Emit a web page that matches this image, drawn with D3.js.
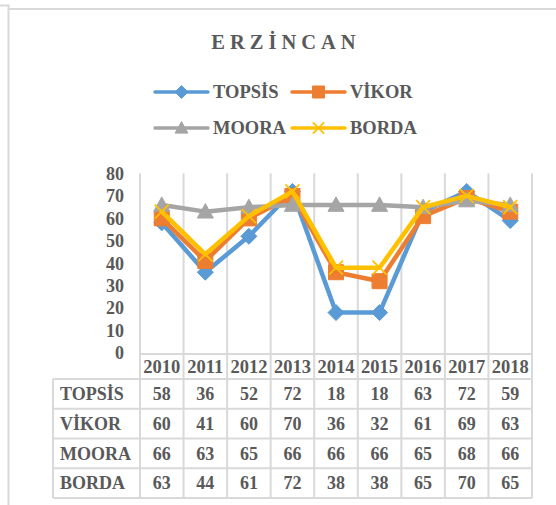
<!DOCTYPE html>
<html>
<head>
<meta charset="utf-8">
<script src="https://cdn.jsdelivr.net/npm/d3@7"></script>
<style>
  body { margin: 0; background: #fff; }
  text { font-family: "Liberation Serif", "Times New Roman", serif; font-weight: bold; fill: #595959; }
</style>
</head>
<body>
<svg id="chart"></svg>
<script>
// ---------------- data ----------------
const years = ['2010', '2011', '2012', '2013', '2014', '2015', '2016', '2017', '2018'];
const seriesNames = ['TOPSİS', 'VİKOR', 'MOORA', 'BORDA'];
const topsis = [58, 36, 52, 72, 18, 18, 63, 72, 59];
const vikor  = [60, 41, 60, 70, 36, 32, 61, 69, 63];
const moora  = [66, 63, 65, 66, 66, 66, 65, 68, 66];
const borda  = [63, 44, 61, 72, 38, 38, 65, 70, 65];
const yTicks = [0, 10, 20, 30, 40, 50, 60, 70, 80];

const width = 556;
const height = 505;
const gridColor = '#d9d9d9';

const series = [
  { name: seriesNames[0], values: topsis, color: '#5b9bd5', marker: 'diamond' },
  { name: seriesNames[1], values: vikor,  color: '#ed7d31', marker: 'square' },
  { name: seriesNames[2], values: moora,  color: '#a5a5a5', marker: 'triangle' },
  { name: seriesNames[3], values: borda,  color: '#ffc000', marker: 'cross' }
];

//-------- marker shapes
function markerPath(type, s) {
  const p = d3.path();
  if (type == 'diamond') {
    p.moveTo(0, -s); p.lineTo(s, 0); p.lineTo(0, s); p.lineTo(-s, 0); p.closePath();
  } else if (type == 'square') {
    p.rect(-s, -s, 2 * s, 2 * s);
  } else if (type == 'triangle') {
    p.moveTo(0, -s); p.lineTo(s, s * 0.8); p.lineTo(-s, s * 0.8); p.closePath();
  } else {
    p.moveTo(-s, -s); p.lineTo(s, s); p.moveTo(s, -s); p.lineTo(-s, s);
  }
  return p.toString();
}

function drawMarker(g, type, color, scale) {
  const m = g.append('path');
  if (type == 'cross') {
    m.attr('d', markerPath(type, 7 * scale)).attr('fill', 'none')
      .attr('stroke', color).attr('stroke-width', 1.8);
  } else {
    const s = { diamond: 8, square: 7.5, triangle: 8 }[type] * scale;
    m.attr('d', markerPath(type, s)).attr('fill', color).attr('stroke', color).attr('stroke-width', 1);
  }
  return m;
}

const svg = d3.select('#chart')
  .attr('width', width)
  .attr('height', height);

//-------- outer frame
svg.append('path')
  .attr('d', 'M0,5.5 H8.5 V505 M8.5,9 H556')
  .attr('fill', 'none')
  .attr('stroke', gridColor)
  .attr('stroke-width', 2);

//-------- title
svg.append('text')
  .attr('x', 286)
  .attr('y', 49)
  .attr('text-anchor', 'middle')
  .style('font-size', '20.5px')
  .style('letter-spacing', '5px')
  .text('ERZİNCAN');

//-------- scales
const x = d3.scaleBand().domain(years).range([140, 532]);
const y = d3.scaleLinear().domain([0, 80]).range([353, 173.5]);
const row = d3.scaleBand().domain(seriesNames).range([379, 498]);
const headerTop = 354;

//-------- vertical gridlines (through plot and header)
const edges = years.map(d => x(d)).concat([x.range()[1]]);
svg.append('g')
  .selectAll('line')
  .data(edges)
  .join('line')
  .attr('x1', d => d).attr('x2', d => d)
  .attr('y1', y(80)).attr('y2', row.range()[1])
  .attr('stroke', gridColor)
  .attr('stroke-width', 2);

//-------- y axis labels
const yAxis = svg.append('g')
  .attr('transform', `translate(${x.range()[0]},0)`)
  .call(d3.axisLeft(y).tickValues(yTicks).tickSize(0).tickPadding(16));
yAxis.select('.domain').remove();
yAxis.selectAll('text')
  .attr('fill', '#595959')
  .style('font-family', '"Liberation Serif", serif')
  .style('font-weight', 'bold')
  .style('font-size', '18px');

//-------- data table
const table = svg.append('g');
// horizontal lines
const hLines = [{ y: headerTop, x1: x.range()[0] }]
  .concat(seriesNames.map(n => ({ y: row(n), x1: 53 })))
  .concat([{ y: row.range()[1], x1: 53 }]);
table.selectAll('line.h')
  .data(hLines)
  .join('line')
  .attr('class', 'h')
  .attr('x1', d => d.x1).attr('x2', x.range()[1])
  .attr('y1', d => d.y).attr('y2', d => d.y)
  .attr('stroke', gridColor)
  .attr('stroke-width', 2);
table.append('line')
  .attr('x1', 53).attr('x2', 53)
  .attr('y1', row.range()[0]).attr('y2', row.range()[1])
  .attr('stroke', gridColor)
  .attr('stroke-width', 2);

// header years
table.selectAll('text.year')
  .data(years)
  .join('text')
  .attr('class', 'year')
  .attr('x', d => x(d) + x.bandwidth() / 2)
  .attr('y', (headerTop + row.range()[0]) / 2)
  .attr('dy', '0.35em')
  .attr('text-anchor', 'middle')
  .style('font-size', '18.5px')
  .text(d => d);

// rows
const rows = table.selectAll('g.row')
  .data(series)
  .join('g')
  .attr('class', 'row')
  .attr('transform', d => `translate(0,${row(d.name) + row.bandwidth() / 2})`);
rows.append('text')
  .attr('x', 60)
  .attr('dy', '0.35em')
  .style('font-size', '18px')
  .text(d => d.name);
rows.selectAll('text.val')
  .data(d => d.values)
  .join('text')
  .attr('class', 'val')
  .attr('x', (v, i) => x(years[i]) + x.bandwidth() / 2)
  .attr('dy', '0.35em')
  .attr('text-anchor', 'middle')
  .style('font-size', '18px')
  .text(v => v);

//-------- lines and markers
const line = d3.line()
  .x((v, i) => x(years[i]) + x.bandwidth() / 2)
  .y(v => y(v));

series.forEach(s => {
  const g = svg.append('g');
  g.append('path')
    .datum(s.values)
    .attr('d', line)
    .attr('fill', 'none')
    .attr('stroke', s.color)
    .attr('stroke-width', 4.5)
    .attr('stroke-linejoin', 'round')
    .attr('stroke-linecap', 'round');
  s.values.forEach((v, i) => {
    drawMarker(g, s.marker, s.color, 1)
      .attr('transform', `translate(${x(years[i]) + x.bandwidth() / 2},${y(v)})`);
  });
});

//-------- legend
const legendItems = [
  { s: series[0], lx: 155, ty: 92 },
  { s: series[1], lx: 292, ty: 92 },
  { s: series[2], lx: 155, ty: 128 },
  { s: series[3], lx: 292, ty: 128 }
];
const legend = svg.append('g')
  .selectAll('g')
  .data(legendItems)
  .join('g')
  .attr('transform', d => `translate(${d.lx},${d.ty})`);
legend.append('line')
  .attr('x1', 0).attr('x2', 53)
  .attr('stroke', d => d.s.color)
  .attr('stroke-width', 3.5)
  .attr('stroke-linecap', 'round');
legend.each(function (d) {
  drawMarker(d3.select(this), d.s.marker, d.s.color, 0.8)
    .attr('transform', 'translate(26.5,0)');
});
legend.append('text')
  .attr('x', 58)
  .attr('dy', '0.35em')
  .style('font-size', '18.5px')
  .text(d => d.s.name);
</script>
</body>
</html>
